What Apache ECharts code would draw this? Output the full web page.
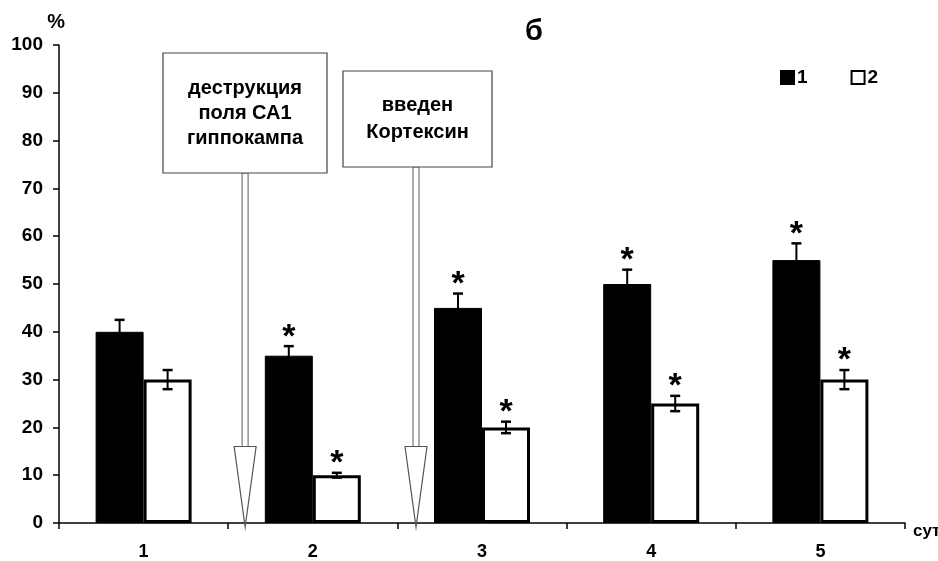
<!DOCTYPE html>
<html>
<head>
<meta charset="utf-8">
<script src="https://cdn.jsdelivr.net/npm/echarts@6/dist/echarts.min.js"></script>
<style>
  html, body { margin: 0; padding: 0; background: #fff; }
  #chart { width: 938px; height: 561px; }
</style>
</head>
<body>
<div id="chart"></div>
<script>
// данные
var days = ['1', '2', '3', '4', '5'];
var group1 = [40, 35, 45, 50, 55];
var group1Err = [2.5, 2, 3, 3, 3.5];
var group1Star = [false, true, true, true, true];
var group2 = [30, 10, 20, 25, 30];
var group2Err = [2, 0.5, 1.2, 1.6, 2];
var group2Star = [false, true, true, true, true];
var yTicks = [0, 10, 20, 30, 40, 50, 60, 70, 80, 90, 100];

var FONT = '"Liberation Sans", Arial, sans-serif';
var BAR_W = 48;

function errData(vals, errs, stars) {
    return vals.map(function (v, i) {
        return [i, v, v + errs[i], v - errs[i], stars[i] ? 1 : 0];
    });
}

function errRender(offset) {
    return function (params, api) {
        var c = api.value(0);
        var hi = api.coord([c, api.value(2)]);
        var lo = api.coord([c, api.value(3)]);
        var x = hi[0] + offset;
        var cap = 5;
        var children = [
            { type: 'line', shape: { x1: x, y1: hi[1], x2: x, y2: lo[1] }, style: { stroke: '#000', lineWidth: 2 } },
            { type: 'line', shape: { x1: x - cap, y1: hi[1], x2: x + cap, y2: hi[1] }, style: { stroke: '#000', lineWidth: 2.5 } },
            { type: 'line', shape: { x1: x - cap, y1: lo[1], x2: x + cap, y2: lo[1] }, style: { stroke: '#000', lineWidth: 2.5 } }
        ];
        if (api.value(4)) {
            // звёздочка — значимое отличие
            children.push({
                type: 'text',
                style: {
                    text: '*', x: x, y: hi[1] + 8,
                    align: 'center', verticalAlign: 'bottom',
                    font: 'bold 34px ' + FONT, fill: '#000'
                }
            });
        }
        return { type: 'group', children: children };
    };
}

var chartDom = document.getElementById('chart');
var chart = echarts.init(chartDom, null, { renderer: 'canvas' });

var option = {
    animation: false,
    backgroundColor: '#fff',
    textStyle: { fontFamily: FONT },
    title: {
        text: 'б',
        left: 520,
        top: 12,
        textStyle: { fontSize: 29, fontWeight: 'bold', color: '#000', fontFamily: FONT }
    },
    legend: {
        data: ['1', '2'],
        left: 775,
        top: 63,
        itemWidth: 13,
        itemHeight: 13,
        itemGap: 43,
        icon: 'rect',
        textStyle: { fontSize: 19, fontWeight: 'bold', color: '#000', fontFamily: FONT, padding: [0, 0, 0, -2] }
    },
    grid: { left: 59, right: 33, top: 45, bottom: 38, containLabel: false, outerBoundsMode: 'none' },
    xAxis: {
        type: 'category',
        data: days,
        name: 'сут',
        nameLocation: 'end',
        nameGap: 8,
        nameTextStyle: { fontSize: 17, fontWeight: 'bold', color: '#000', fontFamily: FONT, verticalAlign: 'top' },
        axisLine: { lineStyle: { color: '#000', width: 1.5 } },
        axisTick: { show: true, alignWithLabel: false, length: 6, lineStyle: { color: '#000', width: 1.5 } },
        axisLabel: { fontSize: 18, fontWeight: 'bold', color: '#000', margin: 20, fontFamily: FONT },
        splitLine: { show: false }
    },
    yAxis: {
        type: 'value',
        min: 0,
        max: 100,
        interval: 10,
        name: '%',
        nameLocation: 'end',
        nameGap: 13,
        nameTextStyle: { fontSize: 20, fontWeight: 'bold', color: '#000', fontFamily: FONT, align: 'right', padding: [0, -6, 0, 0] },
        axisLine: { show: true, lineStyle: { color: '#000', width: 1.5 } },
        axisTick: { show: true, length: 6, lineStyle: { color: '#000', width: 1.5 } },
        axisLabel: {
            fontSize: 19, fontWeight: 'bold', color: '#000', margin: 16, fontFamily: FONT,
            formatter: function (v) { return yTicks.indexOf(v) >= 0 ? String(v) : ''; }
        },
        splitLine: { show: false }
    },
    series: [
        {
            name: '1',
            type: 'bar',
            data: group1,
            barWidth: BAR_W,
            barGap: '0%',
            itemStyle: { color: '#000', borderColor: '#000', borderWidth: 1 }
        },
        {
            name: '2',
            type: 'bar',
            data: group2,
            barWidth: BAR_W,
            barGap: '0%',
            itemStyle: { color: '#fff', borderColor: '#000', borderWidth: 3 }
        },
        {
            name: 'err1',
            type: 'custom',
            renderItem: errRender(-BAR_W / 2),
            data: errData(group1, group1Err, group1Star),
            encode: { x: 0, y: [1, 2, 3] },
            z: 5
        },
        {
            name: 'err2',
            type: 'custom',
            renderItem: errRender(BAR_W / 2),
            data: errData(group2, group2Err, group2Star),
            encode: { x: 0, y: [1, 2, 3] },
            z: 5
        }
    ]
};
chart.setOption(option);

// выноски со стрелками
function callout(x, box, lines, lineGap) {
    var yTop = chart.convertToPixel({ yAxisIndex: 0 }, 16);
    var yBase = chart.convertToPixel({ yAxisIndex: 0 }, 0) + 4;
    var els = [];
    els.push({
        type: 'rect',
        shape: { x: box[0], y: box[1], width: box[2], height: box[3] },
        style: { fill: '#fff', stroke: '#444', lineWidth: 1.2 },
        z: 20
    });
    var cx = box[0] + box[2] / 2;
    var startY = box[1] + box[3] / 2 - (lines.length - 1) * lineGap / 2;
    lines.forEach(function (t, i) {
        els.push({
            type: 'text',
            style: {
                text: t, x: cx, y: startY + i * lineGap,
                align: 'center', verticalAlign: 'middle',
                font: 'bold 20px ' + FONT, fill: '#000'
            },
            z: 21
        });
    });
    // стержень
    els.push({
        type: 'rect',
        shape: { x: x - 3, y: box[1] + box[3], width: 6, height: yTop - box[1] - box[3] },
        style: { fill: '#fff', stroke: '#777', lineWidth: 1.2 },
        z: 19
    });
    // наконечник
    els.push({
        type: 'polygon',
        shape: { points: [[x - 11, yTop], [x + 11, yTop], [x, yBase]] },
        style: { fill: '#fff', stroke: '#555', lineWidth: 1.2 },
        z: 19
    });
    return els;
}

var c0 = chart.convertToPixel({ xAxisIndex: 0 }, 0);
var c1 = chart.convertToPixel({ xAxisIndex: 0 }, 1);
var step = c1 - c0;
var arrowX1 = c0 + step * 0.6;
var arrowX2 = c1 + step * 0.61;

var graphics = []
    .concat(callout(arrowX1, [163, 53, 164, 120], ['деструкция', 'поля СА1', 'гиппокампа'], 25))
    .concat(callout(arrowX2, [343, 71, 149, 96], ['введен', 'Кортексин'], 27));

chart.setOption({ graphic: graphics });

window.addEventListener('resize', function () {
    chart.resize();
});
</script>
</body>
</html>
